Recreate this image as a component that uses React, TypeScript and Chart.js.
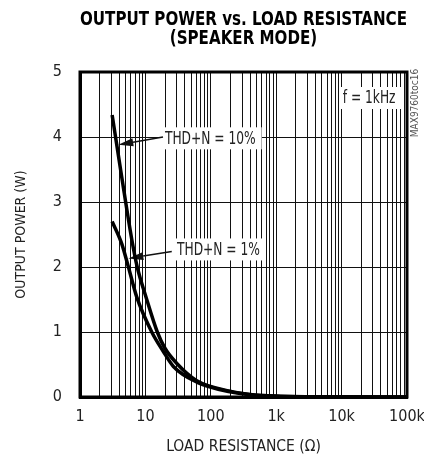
import React, { useEffect, useRef } from "react";
import { Chart, registerables } from "chart.js";

Chart.register(...registerables);

const FONT = "'Liberation Sans Narrow', 'DejaVu Sans Condensed', 'Arial Narrow', sans-serif";

const titleLines = ["OUTPUT POWER vs. LOAD RESISTANCE", "(SPEAKER MODE)"];
const xAxisTitle = "LOAD RESISTANCE (Ω)";
const yAxisTitle = "OUTPUT POWER (W)";
const xDecades = [1, 10, 100, 1000, 10000, 100000];
const xTickLabels = ["1", "10", "100", "1k", "10k", "100k"];
const yMin = 0;
const yMax = 5;

// THD+N = 10%
const thd10R = [3.1, 4.34, 6.2, 7.5, 10.2, 15.2, 19.9, 30, 61, 197, 400, 1000, 10000, 100000];
const thd10P = [4.34, 3.39, 2.42, 2.0, 1.54, 1.0, 0.75, 0.52, 0.25, 0.09, 0.04, 0.015, 0.002, 0.0002];
// THD+N = 1%
const thd1R = [3.1, 4.34, 5.5, 7.36, 12.5, 18.8, 26.8, 61, 197, 400, 1000, 10000, 100000];
const thd1P = [2.7, 2.36, 2.0, 1.54, 1.0, 0.7, 0.47, 0.23, 0.08, 0.035, 0.013, 0.0018, 0.0002];

const labels = [
  { text: "THD+N = 10%", x: 19.9, y: 3.98, from: [18.6, 4.0], tip: [3.85, 3.88] },
  { text: "THD+N = 1%", x: 30.4, y: 2.27, from: [25.3, 2.24], tip: [5.48, 2.13] },
  { text: "f = 1kHz", x: 10400, y: 4.6, from: null, tip: null },
];
const figureId = "MAX9760toc16";

const gridValues: number[] = [];
xDecades.forEach((d, i) => {
  if (i === xDecades.length - 1) gridValues.push(d);
  else for (let m = 1; m <= 9; m++) gridValues.push(m * d);
});

const NARROW = 0.8;

const annotPlugin = {
  id: "annot",
  beforeDatasetsDraw(chart: any) {
    const { ctx, scales } = chart;
    const x = scales.x;
    const y = scales.y;
    ctx.save();
    ctx.font = `17px ${FONT}`;
    ctx.textBaseline = "middle";
    labels.forEach((l) => {
      const px = x.getPixelForValue(l.x);
      const py = y.getPixelForValue(l.y);
      const w = ctx.measureText(l.text).width * NARROW;
      ctx.fillStyle = "#fff";
      ctx.fillRect(px - 3, py - 11, w + 9, 22);
      ctx.save();
      ctx.translate(px, py + 1);
      ctx.scale(NARROW, 1);
      ctx.fillStyle = "#222";
      ctx.textAlign = "left";
      ctx.fillText(l.text, 0, 0);
      ctx.restore();
      if (l.from && l.tip) {
        const fx = x.getPixelForValue(l.from[0]);
        const fy = y.getPixelForValue(l.from[1]);
        const tx = x.getPixelForValue(l.tip[0]);
        const ty = y.getPixelForValue(l.tip[1]);
        const ang = Math.atan2(ty - fy, tx - fx);
        const len = 15;
        const hw = 4;
        const bx = tx - len * Math.cos(ang);
        const by = ty - len * Math.sin(ang);
        ctx.strokeStyle = "#111";
        ctx.lineWidth = 1.5;
        ctx.beginPath();
        ctx.moveTo(fx, fy);
        ctx.lineTo(bx, by);
        ctx.stroke();
        ctx.fillStyle = "#111";
        ctx.beginPath();
        ctx.moveTo(tx, ty);
        ctx.lineTo(bx + hw * Math.sin(ang), by - hw * Math.cos(ang));
        ctx.lineTo(bx - hw * Math.sin(ang), by + hw * Math.cos(ang));
        ctx.closePath();
        ctx.fill();
      }
    });
    ctx.restore();
  },
  afterDatasetsDraw(chart: any) {
    const { ctx, chartArea: a } = chart;
    ctx.save();
    ctx.strokeStyle = "#000";
    ctx.lineWidth = 3;
    ctx.strokeRect(a.left, a.top, a.right - a.left, a.bottom - a.top);

    // title
    ctx.font = `bold 20px ${FONT}`;
    ctx.fillStyle = "#000";
    ctx.textAlign = "center";
    ctx.textBaseline = "middle";
    const cx = (a.left + a.right) / 2;
    const s = Math.min(1, (a.right - a.left) / ctx.measureText(titleLines[0]).width);
    titleLines.forEach((t, i) => {
      ctx.save();
      ctx.translate(cx, a.top - 52 + i * 18.5);
      ctx.scale(s, 1);
      ctx.fillText(t, 0, 0);
      ctx.restore();
    });

    // figure id
    ctx.translate(a.right + 8, a.top + 31);
    ctx.rotate(-Math.PI / 2);
    ctx.font = `10px ${FONT}`;
    ctx.fillStyle = "#555";
    ctx.fillText(figureId, 0, 0);
    ctx.restore();
  },
};

export default function App() {
  const ref = useRef<HTMLCanvasElement | null>(null);
  useEffect(() => {
    if (!ref.current) return;
    const chart = new Chart(ref.current, {
      type: "line",
      data: {
        datasets: [
          {
            label: "THD+N = 10%",
            data: thd10R.map((r, i) => ({ x: r, y: thd10P[i] })),
            borderColor: "#000",
            borderWidth: 3.5,
            pointRadius: 0,
            cubicInterpolationMode: "monotone",
            fill: false,
          },
          {
            label: "THD+N = 1%",
            data: thd1R.map((r, i) => ({ x: r, y: thd1P[i] })),
            borderColor: "#000",
            borderWidth: 3.5,
            pointRadius: 0,
            cubicInterpolationMode: "monotone",
            fill: false,
          },
        ],
      },
      options: {
        animation: false,
        responsive: true,
        maintainAspectRatio: false,
        events: [],
        layout: { padding: { left: 0, right: 17, top: 72, bottom: 0 } },
        plugins: {
          legend: { display: false },
          tooltip: { enabled: false },
          title: { display: false },
        },
        scales: {
          x: {
            type: "logarithmic",
            min: 1,
            max: 100000,
            afterBuildTicks: (scale: any) => {
              scale.ticks = gridValues.map((v) => ({ value: v }));
            },
            afterFit: (scale: any) => {
              scale.height = 59;
              scale.paddingLeft = 0;
              scale.paddingRight = 0;
            },
            ticks: {
              autoSkip: false,
              maxRotation: 0,
              padding: 10,
              color: "#222",
              font: { family: FONT, size: 16 },
              callback: (v: any) => {
                const i = xDecades.indexOf(Number(v));
                return i >= 0 ? xTickLabels[i] : "";
              },
            },
            grid: { color: "#111", lineWidth: 1, drawTicks: false },
            border: { display: true, color: "#000", width: 3 },
            title: {
              display: true,
              text: xAxisTitle,
              color: "#222",
              font: { family: FONT, size: 15.5 },
              padding: { top: 0, bottom: 0 },
            },
          },
          y: {
            min: yMin,
            max: yMax,
            afterFit: (scale: any) => {
              scale.width = 80;
              scale.paddingTop = 0;
              scale.paddingBottom = 0;
            },
            ticks: {
              stepSize: 1,
              padding: 18,
              color: "#222",
              font: { family: FONT, size: 16 },
            },
            grid: { color: "#111", lineWidth: 1, drawTicks: false },
            border: { display: true, color: "#000", width: 3 },
            title: {
              display: true,
              text: yAxisTitle,
              color: "#222",
              font: { family: FONT, size: 14 },
              padding: { top: 13, bottom: 0 },
            },
          },
        },
      },
      plugins: [annotPlugin],
    } as any);
    return () => chart.destroy();
  }, []);
  return (
    <div style={{ position: "fixed", left: 0, top: 0, width: 424, height: 456, background: "#fff" }}>
      <canvas ref={ref} />
    </div>
  );
}
